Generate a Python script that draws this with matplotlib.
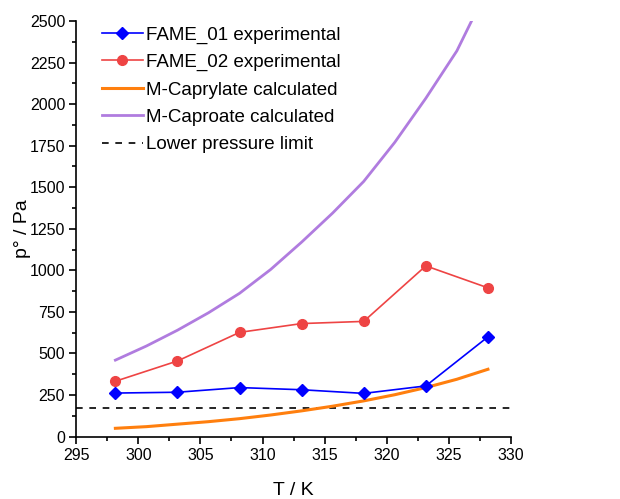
import numpy as np
import matplotlib
matplotlib.use('Agg')
from matplotlib import pyplot as plt
from matplotlib.ticker import MultipleLocator

plt.rcParams['font.family'] = ['Liberation Sans', 'DejaVu Sans']

T_exp = [298.15, 303.15, 308.15, 313.15, 318.15, 323.15, 328.15]
fame_01 = [262, 267, 295, 282, 260, 305, 600]
fame_02 = [333, 455, 627, 680, 693, 1027, 895]

T_calc = [298.15, 300.65, 303.15, 305.65, 308.15, 310.65, 313.15,
          315.65, 318.15, 320.65, 323.15, 325.65, 328.15]
caprylate = [50, 60, 75, 90, 108, 130, 155, 183, 215, 252, 295, 345, 405]
caproate = [460, 545, 640, 745, 862, 1005, 1170, 1345, 1535, 1770, 2035, 2320, 2700]

lower_limit = 170

fig = plt.figure(figsize=(6.2, 4.99), dpi=100)
ax = fig.add_axes([0.123, 0.125, 0.701, 0.833])

ax.plot(T_exp, fame_01, color='#0000ff', lw=1.2, marker='D', ms=6.5,
        label='FAME_01 experimental', zorder=4)
ax.plot(T_exp, fame_02, color='#ee4444', lw=1.2, marker='o', ms=7,
        label='FAME_02 experimental', zorder=3)
ax.plot(T_calc, caprylate, color='#ff7f0e', lw=2.2, label='M-Caprylate calculated', zorder=2)
ax.plot(T_calc, caproate, color='#b07cdf', lw=2.0, label='M-Caproate calculated', zorder=2)
ax.axhline(lower_limit, color='black', lw=1.2, ls=(0, (4, 4)), label='Lower pressure limit', zorder=1)

ax.set_xlim(295, 330)
ax.set_ylim(0, 2500)
ax.xaxis.set_major_locator(MultipleLocator(5))
ax.xaxis.set_minor_locator(MultipleLocator(2.5))
ax.yaxis.set_major_locator(MultipleLocator(250))
ax.yaxis.set_minor_locator(MultipleLocator(125))
ax.tick_params(which='major', direction='out', length=5, width=1.2, labelsize=11.5, pad=3)
ax.tick_params(which='minor', direction='out', length=3, width=1.2)
ax.spines['top'].set_visible(False)
ax.spines['right'].set_visible(False)
ax.spines['left'].set_linewidth(1.2)
ax.spines['bottom'].set_linewidth(1.2)

ax.set_xlabel('T / K', fontsize=14)
ax.set_ylabel('p° / Pa', fontsize=14)
ax.xaxis.set_label_coords(0.5, -0.11)
ax.yaxis.set_label_coords(-0.104, 0.5)

ax.legend(loc='upper left', bbox_to_anchor=(0.02, 1.028), frameon=False, fontsize=13.5,
          handlelength=2.2, labelspacing=0.55, handletextpad=0.15)

fig.savefig('out.png', dpi=100)
